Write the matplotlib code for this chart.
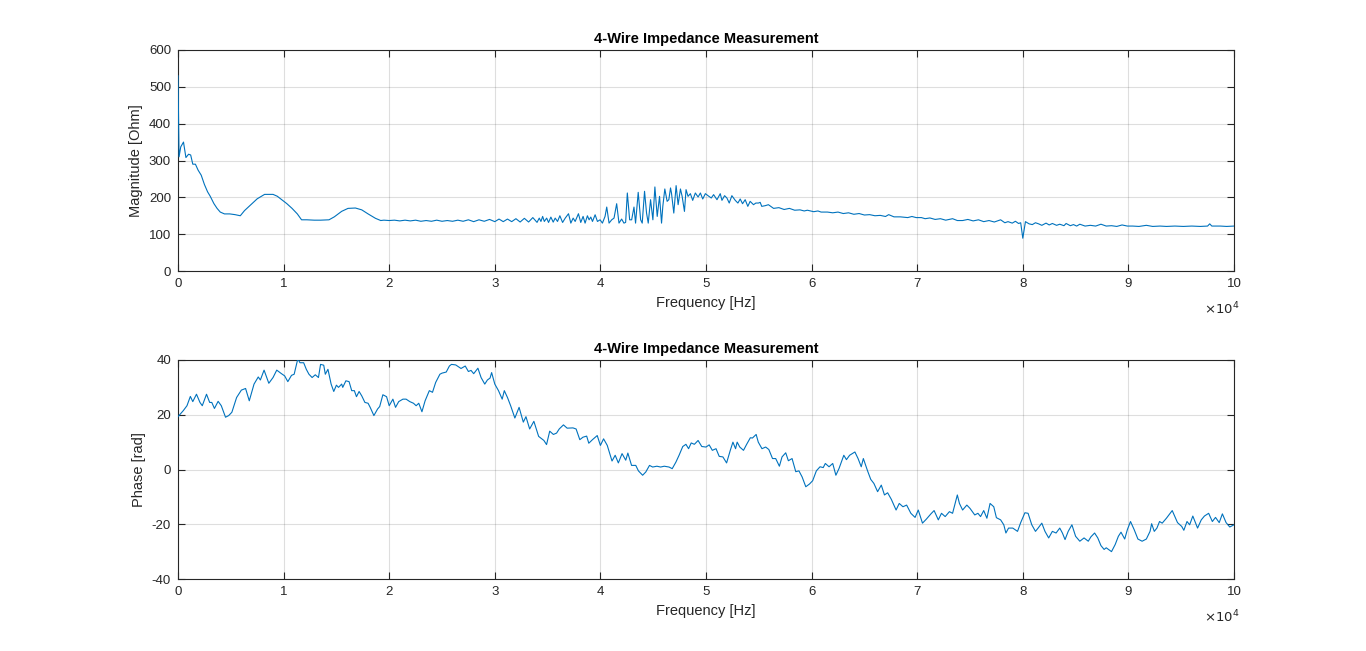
import matplotlib
matplotlib.use("Agg")
import matplotlib.pyplot as plt
import numpy as np

plt.rcParams['font.family'] = ['Liberation Sans', 'DejaVu Sans']
plt.rcParams['axes.unicode_minus'] = False

title = "4-Wire Impedance Measurement"
xlabel = "Frequency [Hz]"
ylabel_mag = "Magnitude [Ohm]"
ylabel_ph = "Phase [rad]"
xtick_vals = [0, 1, 2, 3, 4, 5, 6, 7, 8, 9, 10]

# Magnitude: frequency in kHz, value in Ohm
mag_f_khz = [0, 0.1, 0.26, 0.52, 0.75, 1.0, 1.2, 1.4, 1.65, 1.9, 2.2, 2.5, 2.8, 3.05, 3.4, 3.7, 4.0, 4.4, 4.9, 5.4, 5.9,
             6.3, 6.9, 7.5, 8.2, 9.0, 9.4, 9.8, 10.3, 10.8, 11.3, 11.7, 12.2, 12.9, 13.5, 14.3, 14.8, 15.5, 16.1, 16.8,
             17.4, 18.0, 18.7, 19.2, 19.5, 20.0,
             20.5, 21.0, 21.5, 22.0, 22.5, 23.0, 23.5, 24.0, 24.5, 25.0, 25.5, 26.0, 26.5, 27.0, 27.5, 28.0, 28.5,
             29.0, 29.5, 30.0, 30.4, 30.8, 31.2, 31.6, 32.0, 32.4, 32.8, 33.2, 33.6, 34.0,
             34.21, 34.37, 34.53, 34.69, 34.91, 35.09, 35.31, 35.53, 35.72, 35.94, 36.16, 36.42, 36.67, 36.98, 37.20,
             37.42, 37.61, 37.92, 38.14, 38.36, 38.55, 38.77, 38.93, 39.09, 39.25, 39.50, 39.72, 39.97, 40.19, 40.44,
             40.60, 40.82, 41.07, 41.29, 41.54, 41.76, 42.01, 42.23, 42.39, 42.55, 42.77, 42.96, 43.18, 43.33, 43.58,
             43.81, 43.96, 44.18, 44.37, 44.53, 44.75, 44.97, 45.16, 45.38, 45.60, 45.79, 45.91, 46.10, 46.32, 46.48,
             46.64, 46.73, 46.95, 47.17, 47.36, 47.58, 47.74, 47.96, 48.11, 48.30, 48.52, 48.74, 48.99, 49.25, 49.47,
             49.69, 49.94,
             50.19, 50.50, 50.72, 51.04, 51.35, 51.51, 51.76, 51.98, 52.20, 52.45, 52.77, 53.02, 53.24, 53.46, 53.71,
             53.96, 54.18, 54.50, 54.72, 54.97, 55.13, 55.28, 55.60, 55.91,
             56.4, 56.9, 57.4, 57.9, 58.4, 58.9, 59.3, 59.6, 60.2, 60.6, 60.9, 61.5, 62.0, 62.5, 63.0, 63.5, 64.0,
             64.5, 65.0, 65.5, 66.0, 66.5, 67.0, 67.3, 67.8, 68.4, 69.1, 69.5, 69.9, 70.4, 70.75, 71.2, 71.7, 72.2,
             72.7, 73.35, 73.8, 74.3, 74.8, 75.3, 75.8, 76.3, 76.8, 77.3, 77.9, 78.3, 78.6, 79.0, 79.3, 79.6, 79.8,
             80.0, 80.25, 80.6, 80.9, 81.2, 81.5, 81.8, 82.2, 82.5, 82.8, 83.2, 83.5, 83.9, 84.1, 84.5, 84.8, 85.1,
             85.4, 85.9, 86.4, 86.9, 87.4, 87.9, 88.4, 88.9, 89.4, 89.9, 90.4, 91.0, 91.7, 92.3, 93.0, 93.6, 94.4,
             95.2, 96.0, 96.8, 97.5, 97.7, 97.9, 98.7, 99.3, 100.0]
mag_ohm = [530, 310, 337, 350, 308, 317, 315, 290, 290, 274, 260, 235, 215, 203, 183, 170, 160, 155, 155, 153, 150,
           164, 180, 196, 208, 208, 203, 194, 183, 170, 155, 139, 139, 138, 138, 139, 147, 162, 170, 171,
           166, 155, 143, 137, 138, 137,
           138, 136, 138, 136, 138, 135, 137, 135, 138, 135, 137, 135, 138, 135, 139, 134, 139,
           135, 140, 134, 141, 134, 141, 134, 142, 133, 143, 133, 145, 132,
           143.6, 134.5, 148.2, 134.5, 143.6, 131.8, 146.4, 132.7, 143.6, 134.5, 150, 131.8, 143.6, 155.5, 130,
           143.6, 134.5, 155.5, 131.8, 148.2, 130, 150, 139, 146.4, 134.5, 152.7, 134.5, 139, 130, 148.2,
           173.6, 130, 139, 143.6, 182.7, 130, 141, 130, 132, 211.8, 139, 139, 173.6, 130, 213.6,
           139, 130, 216.4, 157.3, 130, 193.6, 139, 228.2, 148.2, 202.7, 130, 175.5, 222.7, 189.1, 193.6,
           225.5, 211.8, 157.3, 231.8, 180, 222.7, 202.7, 161.8, 220.9, 202.7, 210, 191.8, 211.8, 200.9, 211.8,
           195.5, 210,
           204.5, 198.2, 207.3, 193.6, 210, 191.8, 204.5, 198.2, 184.5, 204.5, 191.8, 184.5, 195.5, 182.7, 193.6,
           175.5, 189.1, 180, 184.5, 184.5, 186.4, 175.5, 177.3, 180,
           170, 172, 167, 170, 165, 166, 163, 165, 161, 163, 160, 160, 158, 160, 156, 158, 154,
           156, 152, 153, 150, 151, 148, 153, 147, 147, 145, 148, 145, 145, 142, 144, 140, 142,
           138, 142, 137, 137, 140, 136, 139, 134, 137, 133, 139, 131, 134, 130, 135, 129, 131,
           89, 134, 128, 126, 131, 128, 124, 130, 125, 129, 124, 127, 123, 129, 123, 126, 122,
           127, 122, 124, 122, 127, 122, 123, 121, 125, 122, 122, 121, 124, 121, 122, 121, 122,
           121, 122, 121, 122, 128, 122, 122, 121, 122]

# Phase: frequency in kHz, phase value
ph_f_khz = [0, 0.5, 0.85, 1.17, 1.4, 1.75, 2.08, 2.3, 2.7, 3.0, 3.2, 3.45, 3.8, 4.1, 4.5, 4.8, 5.1, 5.55, 6.0, 6.4,
            6.75, 7.2, 7.6, 7.8, 8.15, 8.6, 9.0, 9.35, 9.8, 10.1, 10.4, 10.75, 11.0, 11.35, 11.55, 11.9, 12.15, 12.4,
            12.7, 13.0, 13.3, 13.5, 13.8, 13.95, 14.2, 14.5, 14.75, 15.0, 15.2, 15.5, 15.6, 15.9, 16.2, 16.45, 16.7,
            16.9, 17.15, 17.4, 17.7, 18.0, 18.2, 18.55, 18.9, 19.1, 19.4, 19.75, 20.0, 20.35, 20.6, 20.9, 21.3, 21.6,
            21.95, 22.3, 22.55, 22.8, 23.1, 23.4, 23.8, 24.1, 24.4, 24.8, 25.0, 25.4, 25.7, 25.9, 26.3, 26.8, 27.2,
            27.5, 27.75, 28.0, 28.4, 28.7, 29.05, 29.3, 29.55, 29.7, 30.0, 30.35, 30.7, 30.9, 31.2, 31.5, 31.9, 32.3,
            32.7, 32.95, 33.3, 33.7, 34.15, 34.65, 34.9, 35.2, 35.55, 35.85, 36.1, 36.5, 36.85, 37.4, 37.7, 38.05,
            38.35, 38.7, 38.9, 39.25, 39.7, 40.0, 40.3, 40.65, 41.1, 41.4, 41.7, 42.05, 42.4, 42.6, 42.95, 43.35,
            43.6, 44.0, 44.3, 44.65, 44.95, 45.35, 45.7, 46.05, 46.5, 46.8, 47.15, 47.45, 47.8, 48.1, 48.35, 48.6,
            48.9, 49.25, 49.6, 50.0, 50.3, 50.6, 50.95, 51.25, 51.6, 51.95, 52.3, 52.55, 52.8, 52.95, 53.2, 53.55,
            53.85, 54.2, 54.4, 54.75, 54.95, 55.3, 55.65, 55.95, 56.3, 56.6, 56.95, 57.2, 57.55, 57.8, 58.15, 58.5,
            58.8, 59.1, 59.45, 59.8, 60.1, 60.45, 60.8, 61.1, 61.3, 61.65, 62.0, 62.3, 62.6, 63.05, 63.3, 63.6,
            64.1, 64.4, 64.7, 64.9, 65.3, 65.6, 65.9, 66.25, 66.6, 66.9, 67.2, 67.55, 68.0, 68.3, 68.65, 69.0,
            69.4, 69.8, 70.1, 70.5, 70.85, 71.3, 71.6, 72.0, 72.3, 72.65, 73.05, 73.35, 73.8, 74.0, 74.3, 74.7,
            75.0, 75.45, 75.75, 76.0, 76.3, 76.6, 76.9, 77.25, 77.5, 77.9, 78.2, 78.4, 78.65, 79.05, 79.5, 79.8,
            80.2, 80.5, 80.85, 81.2, 81.45, 81.8, 82.1, 82.45, 82.8, 83.15, 83.5, 83.75, 84.0, 84.3, 84.65, 85.0,
            85.4, 85.8, 86.2, 86.45, 86.8, 87.1, 87.4, 87.7, 87.9, 88.4, 88.75, 89.05, 89.3, 89.65, 89.9, 90.2,
            90.55, 90.9, 91.3, 91.7, 92.05, 92.2, 92.45, 92.7, 92.95, 93.2, 93.6, 93.85, 94.15, 94.4, 94.65, 95.05,
            95.25, 95.55, 95.8, 96.1, 96.55, 96.9, 97.2, 97.6, 97.95, 98.25, 98.6, 98.9, 99.25, 99.6, 100.0]
ph_val = [19.3, 21.5, 23.3, 26.7, 24.8, 27.5, 24.5, 23.3, 27.5, 24.5, 24.5, 22.3, 24.9, 23.3, 19.1, 19.7, 20.9, 26.3,
          29.0, 29.6, 25.1, 31.2, 33.8, 32.7, 36.3, 31.5, 33.6, 36.3, 35.0, 34.2, 32.1, 34.4, 34.8, 40.5, 39.0, 39.0,
          36.6, 34.8, 33.6, 34.6, 33.6, 38.4, 38.1, 34.8, 36.6, 31.2, 28.5, 30.8, 30.0, 31.2, 30.0, 32.4, 32.1, 28.8,
          28.8, 26.6, 28.5, 26.9, 24.5, 24.2, 22.7, 19.7, 22.1, 23.0, 27.3, 26.6, 23.3, 25.7, 22.7, 24.8, 25.7, 25.7,
          24.8, 24.2, 23.3, 24.2, 21.1, 25.1, 28.8, 28.2, 31.8, 34.8, 35.2, 35.6, 37.8, 38.4, 38.2, 36.9, 37.8,
          35.8, 36.2, 35.0, 37.0, 33.6, 31.2, 32.7, 33.4, 35.4, 31.2, 28.8, 25.7, 28.8, 26.3, 23.3, 18.8, 22.7,
          17.3, 19.3, 14.8, 17.6, 12.1, 10.6, 9.1, 14.0, 12.8, 13.3, 14.8, 16.3, 15.1, 15.2, 14.8, 10.9,
          11.8, 12.2, 9.6, 10.9, 12.4, 8.8, 11.2, 8.8, 3.1, 5.2, 2.4, 5.8, 3.4, 6.0, 1.5, 1.5,
          -0.5, -2.1, -0.9, 1.5, 0.9, 1.2, 0.9, 1.2, 0.9, 0.3, 2.7, 5.2, 8.4, 9.2, 7.6, 9.7,
          9.2, 10.6, 8.4, 8.2, 9.0, 7.0, 7.6, 4.8, 4.6, 2.4, 7.0, 10.0, 7.6, 10.0, 8.2, 7.0,
          9.2, 11.6, 11.5, 12.8, 10.0, 7.6, 8.2, 7.3, 4.0, 4.0, 1.2, 4.6, 6.1, 3.2, 4.0, -0.8,
          -0.5, -2.7, -6.3, -5.3, -4.1, -0.5, 1.0, 0.7, 2.2, 1.0, 2.2, -2.1, 0.4, 5.2, 3.6, 5.2,
          6.4, 4.0, 1.0, 4.0, -0.5, -3.6, -5.1, -8.1, -5.7, -9.3, -8.5, -10.9, -14.8, -12.4, -13.6, -13.0,
          -16.0, -17.5, -14.8, -19.6, -18.2, -16.2, -15.0, -18.4, -16.0, -17.2, -15.4, -16.0, -9.3, -12.4, -14.8, -13.0,
          -14.2, -16.6, -16.0, -17.2, -15.0, -17.8, -12.4, -13.6, -17.6, -18.4, -20.2, -23.2, -21.4, -21.4, -22.6, -19.4,
          -15.8, -16.0, -20.2, -22.6, -21.4, -19.6, -22.6, -25.0, -22.6, -23.2, -21.4, -23.2, -25.6, -22.6, -20.2, -24.4,
          -26.2, -25.0, -26.2, -24.6, -23.2, -25.0, -27.8, -29.2, -28.6, -30.0, -27.4, -24.4, -22.9, -25.4, -22.0, -19.0,
          -22.0, -25.4, -26.2, -25.4, -22.6, -19.8, -22.6, -21.4, -19.0, -19.6, -17.8, -16.5, -15.0, -17.2, -19.4, -20.8,
          -22.2, -19.0, -20.2, -17.0, -21.4, -18.4, -17.0, -16.0, -19.0, -17.5, -19.4, -16.2, -19.4, -21.0, -20.2]

line_color = '#0072BD'
axis_color = '#262626'

W, H = 1366, 651
fig = plt.figure(figsize=(W / 100, H / 100), dpi=100)
ax1 = fig.add_axes([178 / W, (H - 271) / H, (1234 - 178) / W, 221 / H])
ax2 = fig.add_axes([178 / W, (H - 579) / H, (1234 - 178) / W, 219 / H])


def style(ax, ylab, ylim, yticks):
    ax.set_xlim(0, 100000)
    ax.set_ylim(*ylim)
    ax.set_xticks([v * 1e4 for v in xtick_vals])
    ax.set_xticklabels([str(v) for v in xtick_vals])
    ax.set_yticks(yticks)
    ax.grid(True, color='#262626', alpha=0.15, linewidth=0.8)
    ax.set_axisbelow(True)
    for s in ax.spines.values():
        s.set_color(axis_color)
        s.set_linewidth(0.8)
    ax.tick_params(direction='in', length=5, width=0.8, colors=axis_color, labelsize=9.5,
                   top=True, right=True, pad=5)
    ax.set_xlabel(xlabel, fontsize=10.5, color=axis_color, labelpad=4)
    ax.set_ylabel(ylab, fontsize=10.5, color=axis_color)
    ax.set_title(title, fontsize=10.5, fontweight='bold', color='black', pad=5)
    ax.text(1.005, -0.135, r'$\times10^{4}$', transform=ax.transAxes, ha='right', va='top',
            fontsize=9.5, color=axis_color)


ax1.plot(np.array(mag_f_khz) * 1000, mag_ohm, color=line_color, linewidth=0.8, zorder=3)
style(ax1, ylabel_mag, (0, 600), [0, 100, 200, 300, 400, 500, 600])
ax1.yaxis.set_label_coords(-0.033, 0.5)

ax2.plot(np.array(ph_f_khz) * 1000, ph_val, color=line_color, linewidth=0.8, zorder=3)
style(ax2, ylabel_ph, (-40, 40), [-40, -20, 0, 20, 40])
ax2.yaxis.set_label_coords(-0.030, 0.5)

fig.savefig('out.png', dpi=100)
